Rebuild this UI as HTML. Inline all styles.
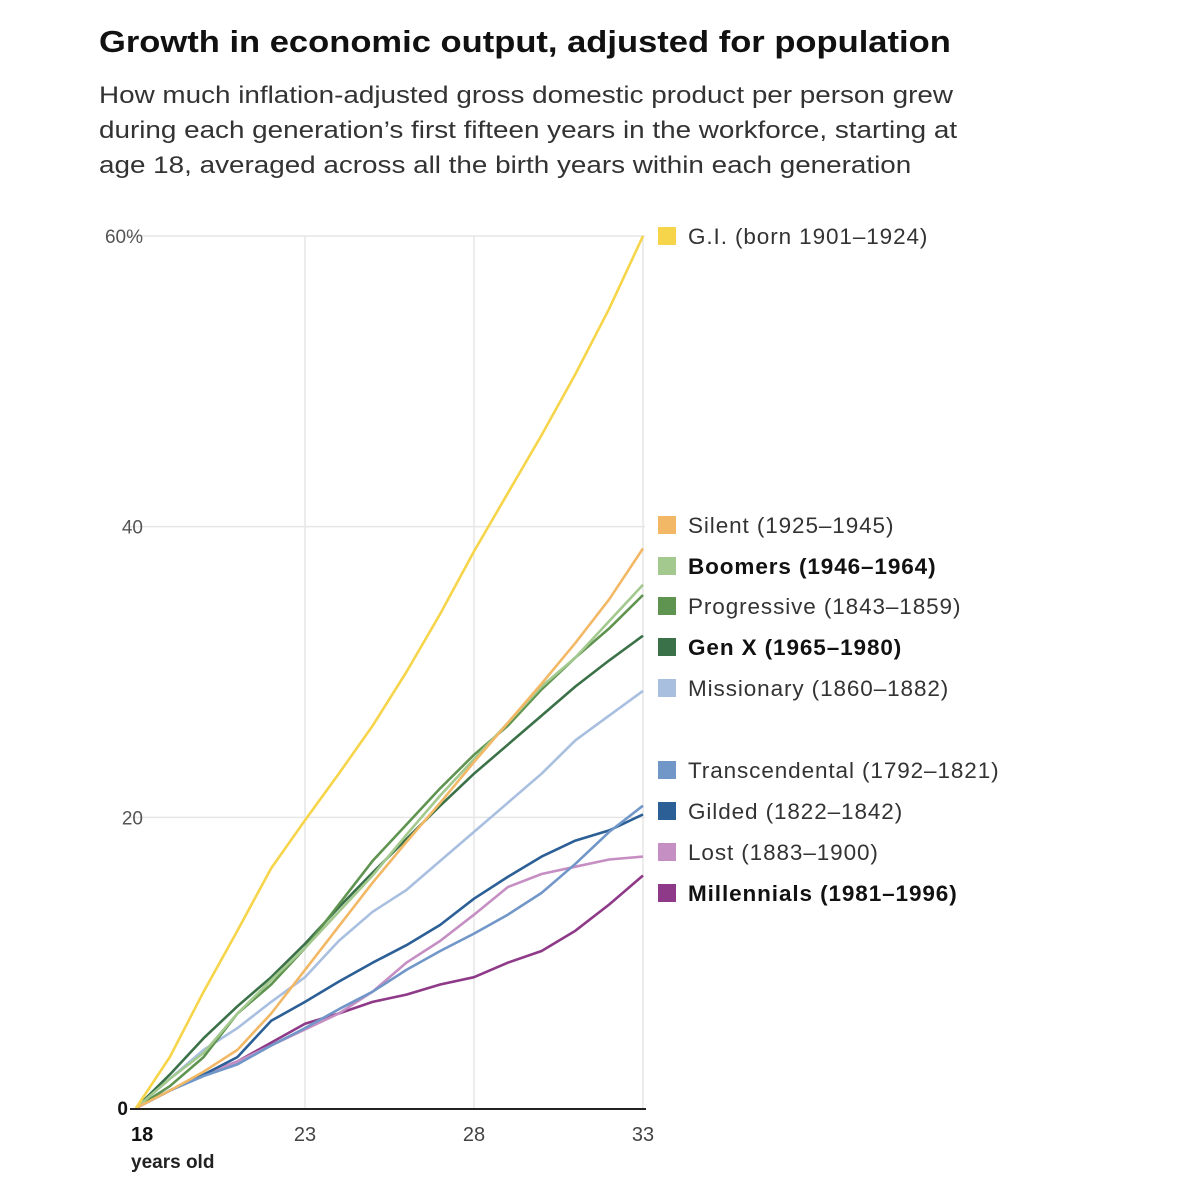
<!DOCTYPE html>
<html><head><meta charset="utf-8">
<style>
body{margin:0;background:#fff;width:1200px;height:1200px;overflow:hidden;font-family:"Liberation Sans",sans-serif;color:#222}
#title{position:absolute;left:99px;top:24px;font-size:31px;font-weight:bold;margin:0;color:#111;transform:scaleX(1.114);transform-origin:0 0;white-space:nowrap}
#sub{position:absolute;left:99px;top:78px;font-size:24.5px;line-height:35px;color:#333;width:900px;transform:scaleX(1.136);transform-origin:0 0;white-space:nowrap}
svg{position:absolute;left:0;top:0}
</style></head><body>
<h1 id="title">Growth in economic output, adjusted for population</h1>
<div id="sub">How much inflation-adjusted gross domestic product per person grew<br>during each generation’s first fifteen years in the workforce, starting at<br>age 18, averaged across all the birth years within each generation</div>
<svg id="chart" width="1200" height="1200"></svg>
<script>
const ages=[18,19,20,21,22,23,24,25,26,27,28,29,30,31,32,33];
const yTicks=[0,20,40,60];
const yTickLabels=["0","20","40","60%"];
const xTicks=[18,23,28,33];
const names=["G.I. (born 1901–1924)","Silent (1925–1945)","Boomers (1946–1964)","Progressive (1843–1859)","Gen X (1965–1980)","Missionary (1860–1882)","Transcendental (1792–1821)","Gilded (1822–1842)","Lost (1883–1900)","Millennials (1981–1996)"];
const colors=["#f7d54a","#f2b865","#a3c98f","#5f9450","#3b7148","#a9bfe0","#7197c9","#2b5f96","#c68fc4","#8e3a88"];
const bold=[false,false,true,false,true,false,false,false,false,true];
const legendY=[236,525,566,606,647,688,770,811,852,893];
const gi=[0,3.5,8,12.2,16.5,19.8,23,26.3,30,34,38.3,42.3,46.3,50.5,55,60];
const silent=[0,1.2,2.5,4,6.5,9.5,12.5,15.5,18.3,21,23.8,26.5,29.2,32,35,38.5];
const boomers=[0,2,3.8,6.5,8.8,11,13.5,16,18.8,21.5,24,26.5,29,31,33.5,36];
const progressive=[0,1.5,3.5,6.5,8.5,11,14,17,19.5,22,24.3,26.3,28.8,31,33,35.3];
const genx=[0,2.3,4.8,7,9,11.3,13.8,16.2,18.5,20.8,23,25,27,29,30.8,32.5];
const missionary=[0,2,4,5.5,7.3,9,11.5,13.5,15,17,19,21,23,25.3,27,28.7];
const transcendental=[0,1.2,2.2,3,4.3,5.5,6.8,8,9.5,10.8,12,13.3,14.8,16.8,19,20.8];
const gilded=[0,1.2,2.3,3.5,6,7.3,8.7,10,11.2,12.6,14.4,15.9,17.3,18.4,19.1,20.2];
const lost=[0,1.2,2.3,3.2,4.3,5.4,6.5,8,10,11.5,13.3,15.2,16.1,16.6,17.1,17.3];
const millennials=[0,1.2,2.3,3.2,4.5,5.8,6.5,7.3,7.8,8.5,9,10,10.8,12.2,14,16];
const series=[gi,silent,boomers,progressive,genx,missionary,transcendental,gilded,lost,millennials];

const svg=document.getElementById('chart');const NS='http://www.w3.org/2000/svg';
const x=a=>136+(a-18)*(507/15);
const y=v=>1108-v*(872/60);
function mk(t,at){const e=document.createElementNS(NS,t);for(const k in at)e.setAttribute(k,at[k]);svg.appendChild(e);return e;}
yTicks.forEach((t,i)=>{
  if(t>0){const g=mk('line',{x1:126,x2:645,y1:y(t),y2:y(t),stroke:'#e6e6e6','stroke-width':1.5});
  
  }
  const l=mk('text',{x:i===0?128:143,y:y(t)+7,'text-anchor':'end','font-size':i===0?19:19,'font-weight':i===0?'bold':'normal',fill:i===0?'#111':'#555'});
  l.textContent=yTickLabels[i];
  
  
});
xTicks.forEach((t,i)=>{
  if(i>0){const g=mk('line',{x1:x(t),x2:x(t),y1:236,y2:1108,stroke:'#e6e6e6','stroke-width':1.5});
  
  }
  const l=mk('text',{x:i===0?131:x(t),y:1141,'text-anchor':i===0?'start':'middle','font-size':20,'font-weight':i===0?'bold':'normal',fill:i===0?'#111':'#444'});
  l.textContent=String(t);
  
  
});
const xt=mk('text',{x:131,y:1168,'font-size':19,'font-weight':'bold',fill:'#222'});
xt.textContent='years old';


for(let s=series.length-1;s>=0;s--){
  const d=series[s].map((v,i)=>(i?'L':'M')+x(ages[i]).toFixed(1)+','+y(v).toFixed(1)).join('');
  const p=mk('path',{d:d,fill:'none',stroke:colors[s],'stroke-width':2.6,'stroke-linejoin':'round'});
  
  
}
const ax=mk('line',{x1:130,x2:646,y1:1109,y2:1109,stroke:'#222','stroke-width':2});


names.forEach((n,i)=>{
  const r=mk('rect',{x:658,y:legendY[i]-9,width:18,height:18,fill:colors[i]});
  
  
  const t=mk('text',{x:688,y:legendY[i]+8,'font-size':22.5,'font-weight':bold[i]?'bold':'normal',fill:bold[i]?'#111':'#333','letter-spacing':0.9});
  t.textContent=n;
  
  
});
</script>
</body></html>
